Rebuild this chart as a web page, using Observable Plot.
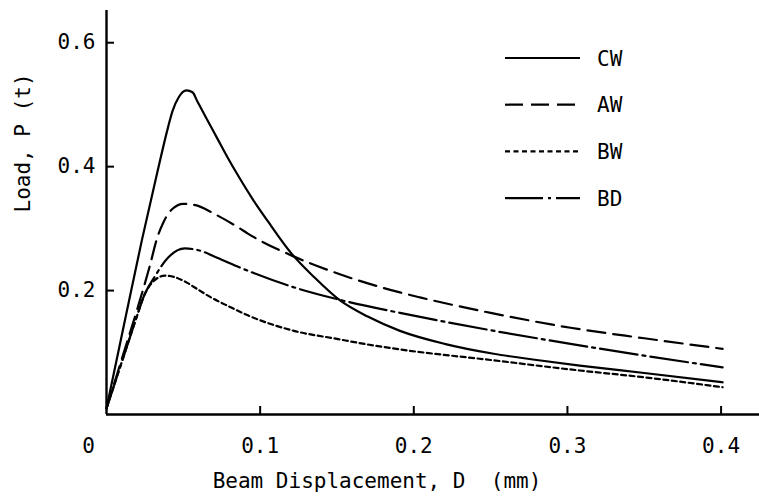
<!DOCTYPE html>
<html>
<head>
<meta charset="utf-8">
<script src="https://cdn.jsdelivr.net/npm/d3@7"></script>
<script src="https://cdn.jsdelivr.net/npm/@observablehq/plot@0.6"></script>
<style>
  html, body { margin: 0; padding: 0; background: #fff; }
  #wrap { position: relative; width: 759px; height: 503px; }
  #wrap svg { position: absolute; left: 0; top: 0; }
</style>
</head>
<body>
<div id="wrap"></div>
<script>
// ---- data ----
const seriesNames = ["CW", "AW", "BW", "BD"];

const cwD = [0, 0.012, 0.023, 0.033, 0.040, 0.043, 0.047, 0.052, 0.056, 0.059, 0.065, 0.072, 0.079, 0.087, 0.095, 0.105, 0.121, 0.135, 0.152, 0.170, 0.191, 0.220, 0.252, 0.280, 0.308, 0.350, 0.401];
const cwP = [0.01, 0.152, 0.281, 0.39, 0.463, 0.490, 0.512, 0.523, 0.520, 0.506, 0.478, 0.446, 0.414, 0.380, 0.348, 0.312, 0.258, 0.222, 0.184, 0.158, 0.135, 0.114, 0.098, 0.088, 0.079, 0.067, 0.052];

const awD = [0, 0.010, 0.020, 0.028, 0.033, 0.037, 0.043, 0.050, 0.058, 0.070, 0.087, 0.092, 0.121, 0.150, 0.191, 0.204, 0.250, 0.302, 0.350, 0.401];
const awP = [0.01, 0.09, 0.17, 0.238, 0.285, 0.310, 0.332, 0.340, 0.338, 0.324, 0.300, 0.292, 0.256, 0.228, 0.197, 0.189, 0.164, 0.140, 0.123, 0.106];

const bwD = [0, 0.010, 0.020, 0.024, 0.031, 0.038, 0.044, 0.050, 0.060, 0.068, 0.080, 0.092, 0.122, 0.150, 0.170, 0.191, 0.250, 0.308, 0.350, 0.401];
const bwP = [0.01, 0.085, 0.16, 0.189, 0.216, 0.224, 0.222, 0.216, 0.201, 0.189, 0.174, 0.160, 0.135, 0.122, 0.113, 0.105, 0.088, 0.071, 0.060, 0.044];

const bdD = [0, 0.010, 0.020, 0.025, 0.031, 0.040, 0.051, 0.060, 0.072, 0.087, 0.092, 0.121, 0.152, 0.191, 0.250, 0.302, 0.350, 0.401];
const bdP = [0.01, 0.085, 0.16, 0.195, 0.221, 0.253, 0.268, 0.265, 0.253, 0.237, 0.232, 0.206, 0.185, 0.164, 0.136, 0.114, 0.095, 0.076];

const xTicks = [0.1, 0.2, 0.3, 0.4];
const xZeroTick = [0];
const yTicks = [0.2, 0.4, 0.6];
const xLabel = "Beam Displacement, D  (mm)";
const yLabel = "Load, P (t)";

// ---- styles ----
const dashes = { CW: null, AW: "18,8", BW: "5,3.5", BD: "38,5,3,5" };

function rows(name, D, P) { return D.map((d, i) => ({ series: name, D: d, P: P[i] })); }
const data = [
  ...rows("CW", cwD, cwP),
  ...rows("AW", awD, awP),
  ...rows("BW", bwD, bwP),
  ...rows("BD", bdD, bdP)
];

const font = "'DejaVu Sans Mono', monospace";
const W = 759, H = 503, mL = 106, mR = 0, mT = 10, mB = 89;
const tickLen = 8;

const chart = Plot.plot({
  width: W,
  height: H,
  marginLeft: mL,
  marginRight: mR,
  marginTop: mT,
  marginBottom: mB,
  x: { domain: [0, 0.425] },
  y: { domain: [0, 0.652] },
  style: { fontFamily: font, fontSize: "21px", background: "#fff", color: "#000" },
  marks: [
    ...seriesNames.map(s => Plot.line(data.filter(d => d.series === s), {
      x: "D", y: "P", stroke: "#000", strokeWidth: 2.2,
      strokeDasharray: dashes[s], curve: "monotone-x"
    })),
    Plot.ruleX([0], { stroke: "#000", strokeWidth: 2.4 }),
    Plot.ruleY([0], { stroke: "#000", strokeWidth: 2.4 }),
    // inward tick marks
    Plot.ruleX(xTicks, { x: d => d, stroke: "#000", strokeWidth: 2, insetTop: (H - mT - mB) - tickLen }),
    Plot.ruleY(yTicks, { y: d => d, stroke: "#000", strokeWidth: 2, insetRight: (W - mL - mR) - tickLen }),
    // tick labels
    Plot.axisX({ ticks: xTicks, tickSize: 0, tickPadding: 24, label: null, tickFormat: d => String(d) }),
    Plot.axisX({ ticks: xZeroTick, tickSize: 0, tickPadding: 24, dx: -18, label: null, tickFormat: d => String(d) }),
    Plot.axisY({ ticks: yTicks, tickSize: 0, tickPadding: 11, label: null, tickFormat: d => String(d) }),
    Plot.text([xLabel], { text: d => d, frameAnchor: "bottom", lineAnchor: "bottom", dy: 73, dx: -56, fontSize: 21 }),
    Plot.text([yLabel], { text: d => d, frameAnchor: "left", rotate: -90, dx: -83, fontSize: 21 })
  ]
});

const wrap = document.getElementById("wrap");
wrap.appendChild(chart);

// legend overlay (inside the plot area, top right)
const legendItems = seriesNames;
const leg = d3.select(wrap).append("svg")
  .attr("width", W).attr("height", H)
  .style("pointer-events", "none");
const legY0 = 58, legStep = 46.7;
const g = leg.selectAll("g").data(legendItems).join("g")
  .attr("transform", (d, i) => `translate(0,${legY0 + i * legStep})`);
g.append("line")
  .attr("x1", 505).attr("x2", 580).attr("y1", 0).attr("y2", 0)
  .attr("stroke", "#000").attr("stroke-width", 2.2)
  .attr("stroke-dasharray", d => dashes[d]);
g.append("text")
  .attr("x", 597).attr("y", 0).attr("dy", "0.36em")
  .attr("font-family", font).attr("font-size", 21)
  .text(d => d);
</script>
</body>
</html>
